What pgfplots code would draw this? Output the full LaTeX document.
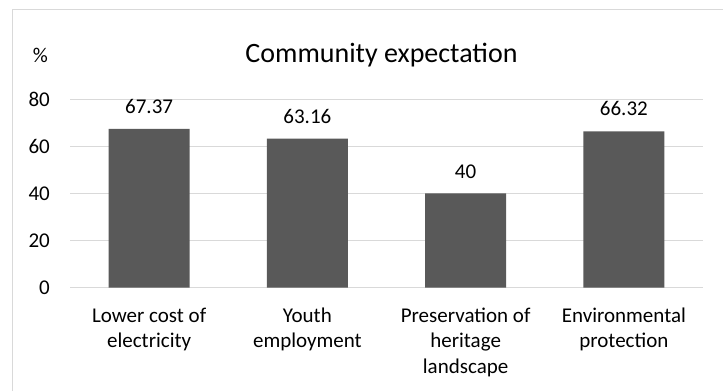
\documentclass[border=0pt]{standalone}
\usepackage{fontspec}
\setmainfont{Carlito}
\usepackage{pgfplots}
\pgfplotsset{compat=1.18}
\definecolor{barc}{HTML}{595959}
\definecolor{gridc}{HTML}{D9D9D9}
\begin{document}
\begin{tikzpicture}[x=1bp,y=1bp]
\draw[gridc, line width=1bp] (12,0) -- (12,381) -- (723,381);
\begin{axis}[
 at={(70bp,103.3bp)}, anchor=south west,
 width=633bp, height=188.7bp, scale only axis,
 xmin=-0.5, xmax=3.5, ymin=0, ymax=80,
 axis line style={draw=none},
 ytick={0,20,40,60,80},
 xtick={0,1,2,3},
 xticklabels={{Lower cost of\\electricity},{Youth\\employment},{Preservation of\\heritage\\landscape},{Environmental\\protection}},
 major tick length=0pt,
 ymajorgrids, grid style={gridc, line width=1bp},
 ybar, bar width=81bp,
 /pgf/number format/assume math mode=true,
 tick label style={font=\fontsize{21bp}{25.5bp}\selectfont, text=black},
 xticklabel style={align=center, anchor=north, inner sep=0pt, yshift=-20bp},
 yticklabel style={anchor=east, inner sep=0pt, xshift=-20bp},
 nodes near coords,
 every node near coord/.append style={font=\fontsize{21bp}{25.5bp}\selectfont, inner sep=0pt, yshift=15bp, text=black},
 clip=false,
]
\addplot[fill=barc, draw=none] coordinates {(0,67.37) (1,63.16) (2,40) (3,66.32)};
\end{axis}
\node[anchor=base, font=\fontsize{28bp}{34bp}\selectfont] at (381.5,329) {Community expectation};
\node[anchor=base, font=\fontsize{21bp}{25bp}\selectfont] at (40.5,329) {\%};
\pgfresetboundingbox
\useasboundingbox (0,0) rectangle (723,391);
\end{tikzpicture}
\end{document}
